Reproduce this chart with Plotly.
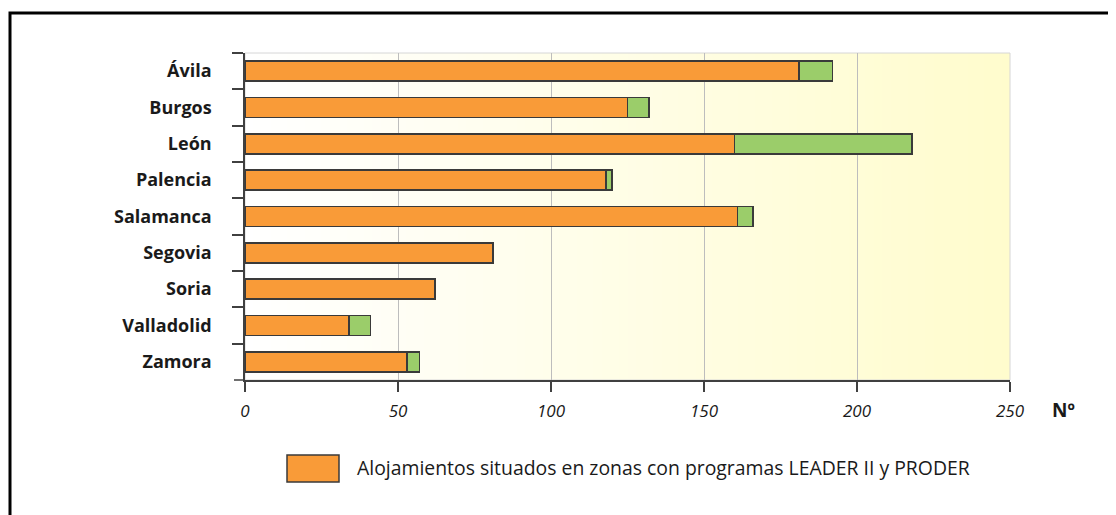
import plotly.graph_objects as go

# ---- data ----
provincias = ["Ávila", "Burgos", "León", "Palencia", "Salamanca",
              "Segovia", "Soria", "Valladolid", "Zamora"]
alojamientos_leader_proder = [181, 125, 160, 118, 161, 81, 62, 34, 53]
alojamientos_resto = [11, 7, 58, 2, 5, 0, 0, 7, 4]
x_ticks = [0, 50, 100, 150, 200, 250]
legend_label = "Alojamientos situados en zonas con programas LEADER II y PRODER"
x_unit_label = "Nº"

# ---- geometry (pixels) ----
OFF = 8  # page body margin in the browser
W, H = 1116 - OFF, 515 - OFF
ML, MR, MT, MB = 245 - OFF, 106, 53 - OFF, 135
PW, PH = W - ML - MR, H - MT - MB


def px(xp):
    # screen x -> paper x
    return (xp - OFF - ML) / PW


def py(yp):
    # screen y -> paper y
    return (H - MB - (yp - OFF)) / PH


ORANGE = "#F99B38"
GREEN = "#9BCD6A"
OUTLINE = "#3a3a3a"
AXIS = "#404040"

fig = go.Figure()
fig.add_trace(go.Bar(
    y=provincias, x=alojamientos_leader_proder, orientation="h",
    marker=dict(color=ORANGE, line=dict(color=OUTLINE, width=1.6)),
    name=legend_label, showlegend=False,
))
fig.add_trace(go.Bar(
    y=provincias, x=alojamientos_resto, orientation="h",
    marker=dict(color=GREEN, line=dict(color=OUTLINE, width=1.6)),
    showlegend=False,
))

shapes = []
# gradient background (white -> pale yellow)
N = 90
c0 = (255, 255, 255)
c1 = (255, 252, 205)
for i in range(N):
    t = i / (N - 1)
    col = tuple(round(c0[k] + (c1[k] - c0[k]) * t) for k in range(3))
    shapes.append(dict(type="rect", xref="x domain", yref="y domain",
                       x0=i / N, x1=(i + 1.5) / N if i < N - 1 else 1,
                       y0=0, y1=1, layer="below", line=dict(width=0),
                       fillcolor="rgb(%d,%d,%d)" % col))
# light plot border
shapes.append(dict(type="rect", xref="paper", yref="paper", x0=0, x1=1, y0=0, y1=1,
                   line=dict(color="#d6d6d6", width=1), layer="below"))
# extension of x axis line to the left
shapes.append(dict(type="line", xref="paper", yref="paper", x0=px(234), x1=0,
                   y0=0, y1=0, line=dict(color=AXIS, width=1.5)))
# outer frame
shapes.append(dict(type="rect", xref="paper", yref="paper",
                   x0=px(10), x1=px(1125), y0=py(525), y1=py(13),
                   line=dict(color="black", width=3)))
# legend swatch
shapes.append(dict(type="rect", xref="paper", yref="paper",
                   x0=px(287), x1=px(339), y0=py(482), y1=py(455),
                   fillcolor=ORANGE, line=dict(color=OUTLINE, width=1.5)))

annotations = [
    dict(text=legend_label, xref="paper", yref="paper", x=px(355), y=py(468),
         xanchor="left", yanchor="middle", showarrow=False,
         font=dict(family="Open Sans", size=19.4, color="#1a1a1a")),
    dict(text=x_unit_label, xref="paper", yref="paper", x=px(1063), y=py(410),
         xanchor="center", yanchor="middle", showarrow=False,
         font=dict(family="Open Sans", size=19, color="#1a1a1a", weight="bold")),
]

fig.update_layout(
    width=W, height=H,
    margin=dict(l=ML, r=MR, t=MT, b=MB, pad=0),
    paper_bgcolor="white", plot_bgcolor="white",
    barmode="stack", bargap=0.45,
    shapes=shapes, annotations=annotations,
    showlegend=False,
)
fig.update_xaxes(
    range=[0, 250], tickvals=x_ticks, ticktext=[str(v) for v in x_ticks],
    showgrid=True, gridcolor="#bdbdbd", gridwidth=1.3,
    showline=True, linecolor=AXIS, linewidth=1.5,
    ticks="outside", ticklen=10, tickcolor=AXIS, tickwidth=1.5,
    ticklabelstandoff=5,
    tickfont=dict(family="Open Sans", size=17, color="#1a1a1a", style="italic"),
    zeroline=False,
)
fig.update_yaxes(
    autorange="reversed", type="category",
    showline=True, linecolor=AXIS, linewidth=1.5,
    ticks="outside", tickson="boundaries", ticklen=11, tickcolor=AXIS, tickwidth=1.5,
    ticklabelstandoff=28,
    tickfont=dict(family="Open Sans", size=18, color="#1a1a1a", weight="bold"),
    showgrid=False,
)

fig.write_html("out.html")
